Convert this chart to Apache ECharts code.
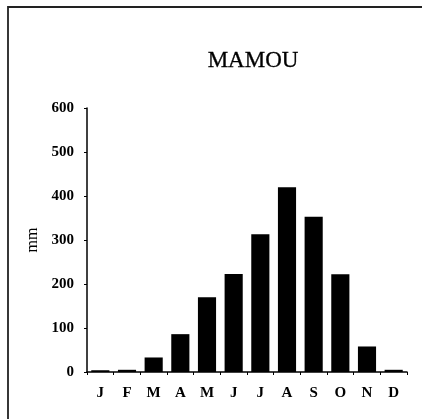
<!DOCTYPE html>
<html>
<head>
<meta charset="utf-8">
<script src="https://cdn.jsdelivr.net/npm/echarts@6/dist/echarts.min.js"></script>
<style>
    html, body { margin: 0; padding: 0; background: #fff; }
</style>
</head>
<body>
<div id="main" style="width: 422px;height:419px;"></div>
<script>
    // mois et pluie mensuelle (mm)
    var months = ['J', 'F', 'M', 'A', 'M', 'J', 'J', 'A', 'S', 'O', 'N', 'D'];
    var rain = [4, 5, 33, 86, 170, 223, 313, 420, 353, 222, 58, 5];
    var yTicks = [0, 100, 200, 300, 400, 500, 600];

    var serif = '"Liberation Serif", "DejaVu Serif", serif';
    var myChart = echarts.init(document.getElementById('main'));

    var option = {
        animation: false,
        backgroundColor: '#fff',
        title: {
            text: 'MAMOU',
            left: 248,
            top: 44,
            textAlign: 'center',
            textStyle: { fontFamily: serif, fontSize: 23, fontWeight: 'normal', color: '#000', textBorderColor: '#000', textBorderWidth: 0.3 }
        },
        // cadre
        graphic: [{
            type: 'polyline',
            shape: { points: [[8, 419], [8, 7], [422, 7]] },
            style: { stroke: '#222', lineWidth: 1.8, fill: null }
        }],
        grid: { left: 87, right: 15, top: 108, bottom: 47 },
        xAxis: {
            type: 'category',
            data: months,
            axisLine: { lineStyle: { color: '#000', width: 1.5 } },
            axisTick: { show: true, length: 3, lineStyle: { color: '#000' } },
            axisLabel: { fontFamily: serif, fontSize: 15, fontWeight: 'bold', color: '#000', margin: 14 }
        },
        yAxis: {
            type: 'value',
            min: yTicks[0],
            max: yTicks[yTicks.length - 1],
            interval: 100,
            name: 'mm',
            nameLocation: 'middle',
            nameGap: 43,
            nameTextStyle: { fontFamily: serif, fontSize: 16, color: '#000' },
            axisLine: { show: true, lineStyle: { color: '#000', width: 1.5 } },
            axisTick: { show: true, length: 3, lineStyle: { color: '#000' } },
            splitLine: { show: false },
            axisLabel: { fontFamily: serif, fontSize: 15, fontWeight: 'bold', color: '#000', margin: 13 }
        },
        series: [{
            name: 'pluie',
            type: 'bar',
            data: rain,
            barWidth: '68%',
            itemStyle: { color: '#000' }
        }]
    };
    myChart.setOption(option);
</script>
</body>
</html>
